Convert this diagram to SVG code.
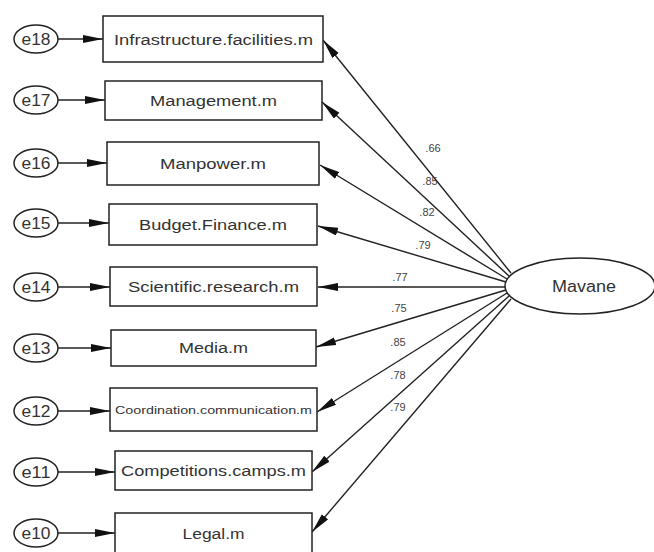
<svg xmlns="http://www.w3.org/2000/svg" width="654" height="552" viewBox="0 0 654 552">
<defs>
<marker id="ah" markerUnits="userSpaceOnUse" markerWidth="21" markerHeight="9" refX="20" refY="4" orient="auto">
<path d="M0,0 L20,4 L0,8 Z" fill="#111"/>
</marker>
<style>
.box{fill:#fff;stroke:#222;stroke-width:1.5}
.err{fill:#fff;stroke:#222;stroke-width:1.5}
.lat{fill:#fff;stroke:#222;stroke-width:1.5}
.t{font-family:"Liberation Sans",Arial,sans-serif;font-size:15.5px;fill:#333;text-anchor:middle}
.ts{font-family:"Liberation Sans",Arial,sans-serif;font-size:11px;fill:#333;text-anchor:middle}
.te{font-family:"Liberation Sans",Arial,sans-serif;font-size:16px;fill:#333;text-anchor:middle}
.tl{font-family:"Liberation Sans",Arial,sans-serif;font-size:11px;fill:#444;text-anchor:middle}
.c{stroke:#222;stroke-width:1.4;fill:none;marker-end:url(#ah)}
</style>
</defs>
<rect width="654" height="552" fill="#fff"/>

<g id="connectors">
<line class="c" x1="58" y1="39" x2="103" y2="39"/>
<line class="c" x1="58" y1="100" x2="105" y2="100"/>
<line class="c" x1="58" y1="163" x2="107" y2="163"/>
<line class="c" x1="58" y1="223" x2="109" y2="223"/>
<line class="c" x1="58" y1="287" x2="110" y2="287"/>
<line class="c" x1="58" y1="348" x2="111" y2="348"/>
<line class="c" x1="58" y1="411" x2="110" y2="411"/>
<line class="c" x1="58" y1="472" x2="115" y2="472"/>
<line class="c" x1="58" y1="533" x2="115" y2="533"/>

<line class="c" x1="511" y1="273" x2="323" y2="40"/>
<line class="c" x1="509" y1="276" x2="322" y2="102"/>
<line class="c" x1="507" y1="279" x2="320" y2="165"/>
<line class="c" x1="506" y1="282" x2="318" y2="226"/>
<line class="c" x1="505" y1="287" x2="318" y2="287"/>
<line class="c" x1="506" y1="290" x2="316" y2="347"/>
<line class="c" x1="507" y1="293" x2="317" y2="412"/>
<line class="c" x1="509" y1="296" x2="312" y2="472"/>
<line class="c" x1="511" y1="299" x2="312" y2="532"/>

<text class="tl" x="433" y="152">.66</text>
<text class="tl" x="430" y="185">.85</text>
<text class="tl" x="427" y="216">.82</text>
<text class="tl" x="423" y="249">.79</text>
<text class="tl" x="400" y="281">.77</text>
<text class="tl" x="399" y="312">.75</text>
<text class="tl" x="398" y="346">.85</text>
<text class="tl" x="398" y="379">.78</text>
<text class="tl" x="398" y="411">.79</text>
</g>

<g id="e18"><ellipse class="err" cx="36" cy="39" rx="22" ry="14"/><text class="te" x="36" y="45" textLength="29" lengthAdjust="spacingAndGlyphs">e18</text></g>
<g id="e17"><ellipse class="err" cx="36" cy="100" rx="22" ry="14"/><text class="te" x="36" y="106" textLength="29" lengthAdjust="spacingAndGlyphs">e17</text></g>
<g id="e16"><ellipse class="err" cx="36" cy="163" rx="22" ry="14"/><text class="te" x="36" y="169" textLength="29" lengthAdjust="spacingAndGlyphs">e16</text></g>
<g id="e15"><ellipse class="err" cx="36" cy="223" rx="22" ry="14"/><text class="te" x="36" y="229" textLength="29" lengthAdjust="spacingAndGlyphs">e15</text></g>
<g id="e14"><ellipse class="err" cx="36" cy="287" rx="22" ry="14"/><text class="te" x="36" y="293" textLength="29" lengthAdjust="spacingAndGlyphs">e14</text></g>
<g id="e13"><ellipse class="err" cx="36" cy="348" rx="22" ry="14"/><text class="te" x="36" y="354" textLength="29" lengthAdjust="spacingAndGlyphs">e13</text></g>
<g id="e12"><ellipse class="err" cx="36" cy="411" rx="22" ry="14"/><text class="te" x="36" y="417" textLength="29" lengthAdjust="spacingAndGlyphs">e12</text></g>
<g id="e11"><ellipse class="err" cx="36" cy="472" rx="22" ry="14"/><text class="te" x="36" y="478" textLength="29" lengthAdjust="spacingAndGlyphs">e11</text></g>
<g id="e10"><ellipse class="err" cx="36" cy="533" rx="22" ry="14"/><text class="te" x="36" y="539" textLength="29" lengthAdjust="spacingAndGlyphs">e10</text></g>

<g id="infrastructure"><rect class="box" x="103" y="16" width="220" height="46"/><text class="t" x="213.5" y="45" textLength="199" lengthAdjust="spacingAndGlyphs">Infrastructure.facilities.m</text></g>
<g id="management"><rect class="box" x="105" y="81" width="217" height="39"/><text class="t" x="213.5" y="106" textLength="127" lengthAdjust="spacingAndGlyphs">Management.m</text></g>
<g id="manpower"><rect class="box" x="107" y="142" width="212" height="43"/><text class="t" x="213" y="169" textLength="106" lengthAdjust="spacingAndGlyphs">Manpower.m</text></g>
<g id="budget"><rect class="box" x="109" y="204" width="208" height="41"/><text class="t" x="213" y="230" textLength="148" lengthAdjust="spacingAndGlyphs">Budget.Finance.m</text></g>
<g id="scientific"><rect class="box" x="110" y="267" width="207" height="39"/><text class="t" x="213.5" y="292" textLength="171" lengthAdjust="spacingAndGlyphs">Scientific.research.m</text></g>
<g id="media"><rect class="box" x="111" y="330" width="205" height="36"/><text class="t" x="213.5" y="353" textLength="69" lengthAdjust="spacingAndGlyphs">Media.m</text></g>
<g id="coordination"><rect class="box" x="110" y="388" width="207" height="43"/><text class="ts" x="213.5" y="414" textLength="197" lengthAdjust="spacingAndGlyphs">Coordination.communication.m</text></g>
<g id="competitions"><rect class="box" x="115" y="451" width="197" height="39"/><text class="t" x="213.5" y="476" textLength="185" lengthAdjust="spacingAndGlyphs">Competitions.camps.m</text></g>
<g id="legal"><rect class="box" x="115" y="513" width="197" height="42"/><text class="t" x="213.5" y="539" textLength="62" lengthAdjust="spacingAndGlyphs">Legal.m</text></g>

<g id="mavane"><ellipse class="lat" cx="580" cy="286" rx="75" ry="28"/><text class="te" x="584" y="292" textLength="64" lengthAdjust="spacingAndGlyphs">Mavane</text></g>
</svg>
